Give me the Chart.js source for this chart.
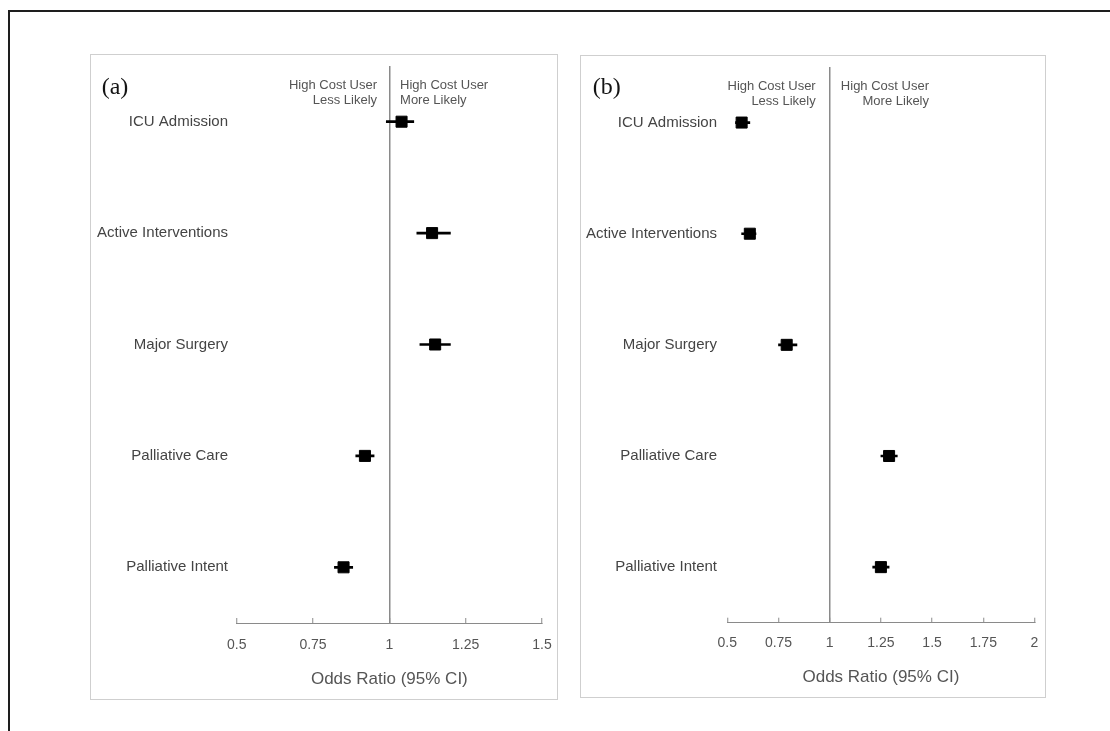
<!DOCTYPE html>
<html>
<head>
<meta charset="utf-8">
<script src="https://cdn.jsdelivr.net/npm/chart.js@4.4.1/dist/chart.umd.min.js"></script>
<style>
  html, body { margin: 0; padding: 0; background: #fff; width: 1110px; height: 731px; overflow: hidden; }
  #frame { position: absolute; left: 8px; top: 10px; right: 0; bottom: 0;
           border-top: 2px solid #1e1e1e; border-left: 2px solid #1e1e1e; }
  .panel { position: absolute; border: 1px solid #cfcfcf; background: #fff; }
  #pa { left: 90px; top: 54px; width: 466px; height: 644px; }
  #pb { left: 580px; top: 55px; width: 464px; height: 641px; }
  .panel canvas { display: block; }
</style>
</head>
<body>
<div id="frame"></div>
<div class="panel" id="pa"><canvas id="ca" width="466" height="644"></canvas></div>
<div class="panel" id="pb"><canvas id="cb" width="464" height="641"></canvas></div>
<script>
// Outcomes (rows, top to bottom)
const outcomes = ['ICU Admission', 'Active Interventions', 'Major Surgery', 'Palliative Care', 'Palliative Intent'];

// Panel (a): odds ratios with 95% CI bounds
const orA = [1.04, 1.14, 1.15, 0.92, 0.85];
const loA = [0.99, 1.09, 1.10, 0.89, 0.82];
const hiA = [1.08, 1.20, 1.20, 0.95, 0.88];

// Panel (b): odds ratios with 95% CI bounds
const orB = [0.57, 0.61, 0.79, 1.29, 1.25];
const loB = [0.54, 0.57, 0.75, 1.25, 1.21];
const hiB = [0.61, 0.64, 0.84, 1.33, 1.29];

// Axis tick values
const ticksA = [0.5, 0.75, 1, 1.25, 1.5];
const ticksB = [0.5, 0.75, 1, 1.25, 1.5, 1.75, 2];

// Text
const panelLetters = ['(a)', '(b)'];
const lessLikely = ['High Cost User', 'Less Likely'];
const moreLikely = ['High Cost User', 'More Likely'];
const axisTitle = 'Odds Ratio (95% CI)';

Chart.defaults.font.family = '"Liberation Sans", Arial, Helvetica, sans-serif';

// Panel letter and the two direction captions either side of OR = 1
function notesPlugin(cfg) {
  return {
    id: 'panelNotes',
    afterDraw(chart) {
      const ctx = chart.ctx;
      const x1 = chart.scales.x.getPixelForValue(1);
      ctx.save();
      ctx.textBaseline = 'middle';
      ctx.fillStyle = '#141414';
      ctx.font = '24px "Liberation Serif", "Times New Roman", serif';
      ctx.textAlign = 'left';
      ctx.fillText(cfg.letter, cfg.letterX, cfg.letterY);

      ctx.fillStyle = '#555';
      ctx.font = '13px "Liberation Sans", Arial, sans-serif';
      ctx.textAlign = 'right';
      lessLikely.forEach((t, i) => ctx.fillText(t, x1 - cfg.leftGap, cfg.lineY[i]));
      ctx.textAlign = cfg.rightAlign;
      moreLikely.forEach((t, i) => ctx.fillText(t, x1 + cfg.rightGap, cfg.lineY[i]));
      ctx.restore();
    }
  };
}

// Layout padding alone decides the plot area; scales keep no extra label padding
function noScalePadding(s) {
  s.paddingLeft = 0; s.paddingRight = 0; s.paddingTop = 0; s.paddingBottom = 0;
}

function forestChart(canvasId, or, lo, hi, ticks, lay, notes) {
  return new Chart(document.getElementById(canvasId), {
    type: 'bar',
    data: {
      labels: outcomes,
      datasets: [
        {
          type: 'line',
          label: 'Odds ratio',
          data: or,
          indexAxis: 'y',
          showLine: false,
          pointStyle: 'rect',
          pointRadius: 7.8,
          pointHoverRadius: 7.8,
          pointBorderWidth: 1,
          backgroundColor: '#000',
          borderColor: '#000',
          order: 0
        },
        {
          type: 'bar',
          label: '95% CI',
          data: lo.map((l, i) => [l, hi[i]]),
          backgroundColor: '#000',
          borderWidth: 0,
          barThickness: 2,
          order: 1
        }
      ]
    },
    options: {
      indexAxis: 'y',
      responsive: false,
      animation: false,
      events: [],
      layout: { padding: { left: 0, right: lay.padRight, top: lay.padTop, bottom: 0 } },
      plugins: { legend: { display: false }, tooltip: { enabled: false } },
      scales: {
        x: {
          type: 'linear',
          position: 'bottom',
          min: ticks[0],
          max: ticks[ticks.length - 1],
          afterBuildTicks: s => { s.ticks = ticks.map(v => ({ value: v })); },
          afterFit: s => { s.height = lay.xHeight; noScalePadding(s); },
          ticks: {
            callback: v => String(v),
            color: '#555',
            font: { size: 14 },
            padding: lay.tickPad,
            autoSkip: false,
            maxRotation: 0
          },
          grid: {
            drawOnChartArea: true,
            color: c => (c.tick && c.tick.value === 1) ? '#8a8a8a' : 'rgba(0,0,0,0)',
            lineWidth: 1.5,
            tickColor: '#8a8a8a',
            tickWidth: 1,
            tickLength: -5
          },
          border: { display: true, color: '#8a8a8a', width: 1 },
          title: {
            display: true,
            text: axisTitle,
            color: '#555',
            font: { size: 17 },
            padding: { top: 0, bottom: lay.titlePad }
          }
        },
        y: {
          type: 'category',
          offset: true,
          afterFit: s => { s.width = lay.yWidth; noScalePadding(s); },
          grid: { display: false, drawTicks: false },
          border: { display: false },
          ticks: { color: '#444', font: { size: 15 }, padding: lay.labelPad }
        }
      }
    },
    plugins: [notesPlugin(notes)]
  });
}

forestChart('ca', orA, loA, hiA, ticksA,
  { padRight: 15, padTop: 11, xHeight: 76, tickPad: 18.5, titlePad: 9.8, yWidth: 145.7, labelPad: 8.7 },
  { letter: panelLetters[0], letterX: 10.7, letterY: 32.3, leftGap: 12.3, rightGap: 10.7, rightAlign: 'left', lineY: [30, 45] });

forestChart('cb', orB, loB, hiB, ticksB,
  { padRight: 10.5, padTop: 11, xHeight: 74.3, tickPad: 17, titlePad: 9.8, yWidth: 146.3, labelPad: 10.3 },
  { letter: panelLetters[1], letterX: 11.7, letterY: 31.7, leftGap: 14, rightGap: 99.3, rightAlign: 'right', lineY: [30, 45.7] });
</script>
</body>
</html>
